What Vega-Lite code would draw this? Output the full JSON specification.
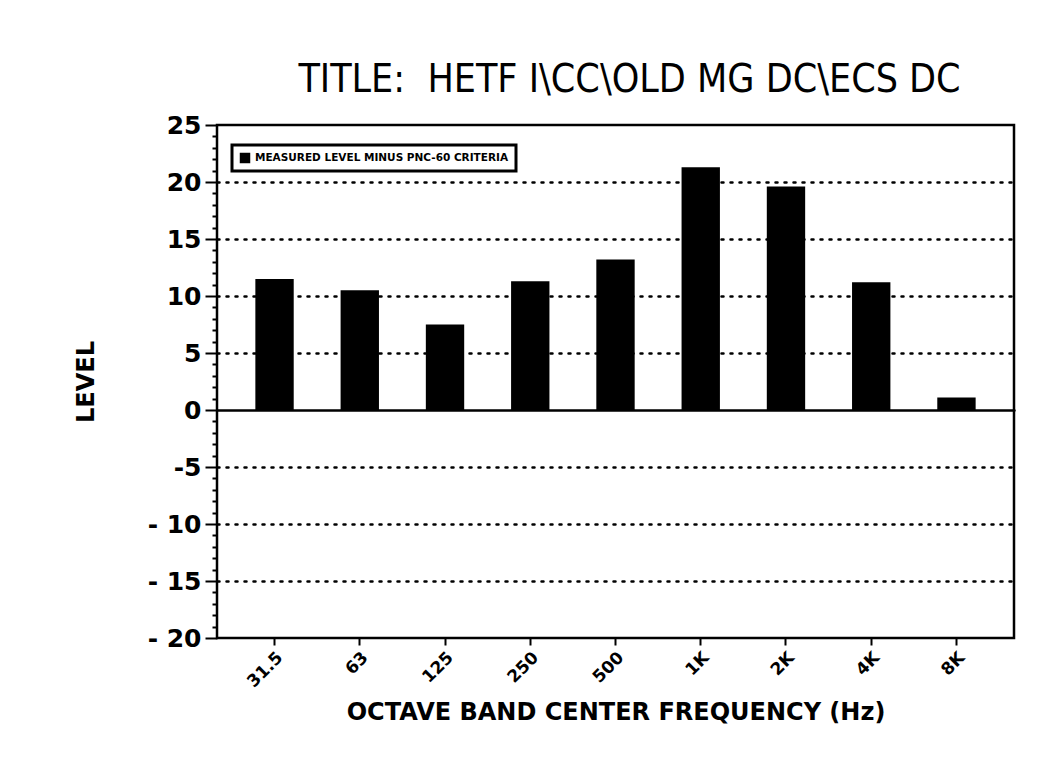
{
  "$schema": "https://vega.github.io/schema/vega-lite/v6.json",
  "autosize": {"type": "none"},
  "width": 797,
  "height": 513,
  "padding": {"left": 217, "top": 125, "right": 50, "bottom": 125},
  "background": "white",
  "config": {
    "view": {"stroke": "black", "strokeWidth": 2.5},
    "font": "DejaVu Sans"
  },
  "title": {
    "text": "TITLE:\u00a0\u00a0HETF I\\CC\\OLD MG DC\\ECS DC",
    "font": "DejaVu Sans Condensed, Liberation Sans Narrow, Liberation Sans",
    "fontSize": 39,
    "fontWeight": "normal",
    "color": "black",
    "anchor": "middle",
    "offset": 13,
    "dx": 14
  },
  "data": {
    "values": [
      {"freq": "31.5", "level": 11.5, "series": "MEASURED LEVEL MINUS PNC-60 CRITERIA"},
      {"freq": "63", "level": 10.5, "series": "MEASURED LEVEL MINUS PNC-60 CRITERIA"},
      {"freq": "125", "level": 7.5, "series": "MEASURED LEVEL MINUS PNC-60 CRITERIA"},
      {"freq": "250", "level": 11.3, "series": "MEASURED LEVEL MINUS PNC-60 CRITERIA"},
      {"freq": "500", "level": 13.2, "series": "MEASURED LEVEL MINUS PNC-60 CRITERIA"},
      {"freq": "1K", "level": 21.3, "series": "MEASURED LEVEL MINUS PNC-60 CRITERIA"},
      {"freq": "2K", "level": 19.6, "series": "MEASURED LEVEL MINUS PNC-60 CRITERIA"},
      {"freq": "4K", "level": 11.2, "series": "MEASURED LEVEL MINUS PNC-60 CRITERIA"},
      {"freq": "8K", "level": 1.1, "series": "MEASURED LEVEL MINUS PNC-60 CRITERIA"}
    ]
  },
  "mark": {"type": "bar", "color": "black"},
  "encoding": {
    "x": {
      "field": "freq",
      "type": "nominal",
      "sort": ["31.5", "63", "125", "250", "500", "1K", "2K", "4K", "8K"],
      "scale": {"paddingInner": 0.55, "paddingOuter": 0.45},
      "axis": {
        "title": "OCTAVE BAND CENTER FREQUENCY (Hz)",
        "titleFont": "DejaVu Sans",
        "titleFontSize": 24,
        "titleFontWeight": "bold",
        "titleColor": "black",
        "titlePadding": 11,
        "labelAngle": -45,
        "labelFont": "DejaVu Sans",
        "labelFontSize": 17,
        "labelFontWeight": "bold",
        "labelColor": "black",
        "labelPadding": 4,
        "tickColor": "black",
        "tickWidth": 2,
        "tickSize": 7,
        "domain": false,
        "grid": false
      }
    },
    "y": {
      "field": "level",
      "type": "quantitative",
      "scale": {"domain": [-20, 25], "nice": false, "zero": false},
      "axis": {
        "title": "LEVEL",
        "titleFont": "DejaVu Sans",
        "titleFontSize": 24,
        "titleFontWeight": "bold",
        "titleColor": "black",
        "titlePadding": 49,
        "values": [-20,-19,-18,-17,-16,-15,-14,-13,-12,-11,-10,-9,-8,-7,-6,-5,-4,-3,-2,-1,0,1,2,3,4,5,6,7,8,9,10,11,12,13,14,15,16,17,18,19,20,21,22,23,24,25],
        "labelExpr": "datum.value % 5 === 0 ? (datum.value < -5 ? '- ' + abs(datum.value) : (datum.value < 0 ? '-' + abs(datum.value) : datum.label)) : ''",
        "labelOverlap": false,
        "labelFont": "DejaVu Sans",
        "labelFontSize": 25,
        "labelFontWeight": "bold",
        "labelColor": "black",
        "labelPadding": 4,
        "tickColor": "black",
        "tickWidth": 2,
        "tickSize": {"condition": {"test": "datum.value % 5 === 0", "value": 12}, "value": 5},
        "domain": false,
        "grid": true,
        "gridColor": "black",
        "gridWidth": 2.5,
        "gridDash": {"condition": {"test": "datum.value === 0", "value": [1, 0]}, "value": [2, 7]},
        "gridCap": "round",
        "gridOpacity": {"condition": {"test": "datum.value % 5 === 0 && datum.value !== 25 && datum.value !== -20", "value": 1}, "value": 0}
      }
    },
    "color": {
      "field": "series",
      "type": "nominal",
      "scale": {"range": ["black"]},
      "legend": {
        "title": null,
        "orient": "none",
        "legendX": 15,
        "legendY": 20,
        "strokeColor": "black",
        "fillColor": "white",
        "padding": 7,
        "symbolType": "square",
        "symbolSize": 110,
        "labelFont": "DejaVu Sans",
        "labelFontSize": 10.5,
        "labelFontWeight": "bold",
        "labelColor": "black",
        "labelLimit": 400,
        "encode": {"legend": {"update": {"strokeWidth": {"value": 3}}}}
      }
    }
  }
}
